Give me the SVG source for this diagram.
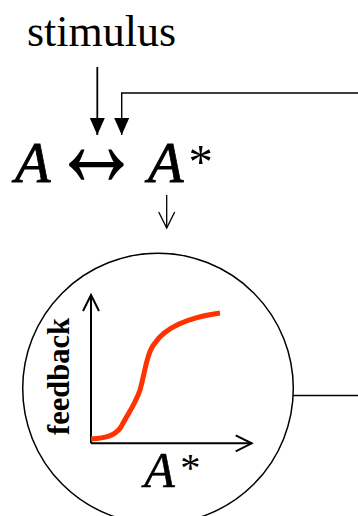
<svg xmlns="http://www.w3.org/2000/svg" width="358" height="516" viewBox="0 0 358 516">
<style>
.serif{font-family:"Liberation Serif","Times New Roman",serif;fill:#000}
.it{font-style:italic}
.conn{fill:none;stroke:#000}
</style>
<defs>
<marker id="solid" markerUnits="userSpaceOnUse" markerWidth="18" markerHeight="16" refX="17" refY="7.5" orient="auto">
<path d="M0,0 L17,7.5 L0,15 Z" fill="#000"/>
</marker>
<marker id="open" markerUnits="userSpaceOnUse" markerWidth="20" markerHeight="20" refX="17" refY="9" orient="auto">
<path d="M1,1 L17,9 L1,17" fill="none" stroke="#000" stroke-width="2"/>
</marker>
<marker id="openthin" markerUnits="userSpaceOnUse" markerWidth="20" markerHeight="20" refX="17" refY="9" orient="auto">
<path d="M1,1 L17,9 L1,17" fill="none" stroke="#000" stroke-width="1.3"/>
</marker>
</defs>
<rect width="358" height="516" fill="#fff"/>
<g id="stimulus">
<text class="serif" x="27" y="45.5" font-size="44">stimulus</text>
</g>
<g id="reaction">
<text class="serif it" x="15" y="181.7" font-size="58" stroke="#000" stroke-width="0.8">A</text>
<text class="serif" x="0" y="0" font-size="92" transform="translate(50.5,185.6) scale(1,1.4)">↔</text>
<text class="serif"><tspan class="it" x="148" y="181.7" font-size="58" stroke="#000" stroke-width="0.8">A</tspan><tspan x="188.6" y="177.9" font-size="48.7">*</tspan></text>
</g>
<g id="feedback-node">
<circle cx="158" cy="388.6" r="135.3" fill="none" stroke="#000" stroke-width="1.5"/>
<line x1="91" y1="443.3" x2="91" y2="295" class="conn" stroke-width="2" marker-end="url(#open)"/>
<line x1="91" y1="443.3" x2="251.7" y2="443.3" class="conn" stroke-width="2" marker-end="url(#open)"/>
<path d="M91,439 C104,438 114,437 121,427 C127,415 135,405 140,390 C145,372 147,352 155,343 C165,328 185,318 220,313" fill="none" stroke="#ff3300" stroke-width="5"/>
<text class="serif" font-weight="bold" font-size="30.5" transform="translate(69,435) rotate(-90)">feedback</text>
<text class="serif"><tspan class="it" x="144.2" y="486.7" font-size="50" stroke="#000" stroke-width="0.6">A</tspan><tspan x="180.2" y="481.4" font-size="40.6">*</tspan></text>
</g>
<g id="connectors">
<line x1="97.3" y1="67" x2="97.3" y2="135" class="conn" stroke-width="1.8" marker-end="url(#solid)"/>
<polyline points="358,93 121.7,93 121.7,135" class="conn" stroke-width="1.4" marker-end="url(#solid)"/>
<line x1="166.7" y1="195" x2="166.7" y2="228" class="conn" stroke-width="1.3" marker-end="url(#openthin)"/>
<line x1="293" y1="395.5" x2="358" y2="395.5" class="conn" stroke-width="1.4"/>
</g>
</svg>
